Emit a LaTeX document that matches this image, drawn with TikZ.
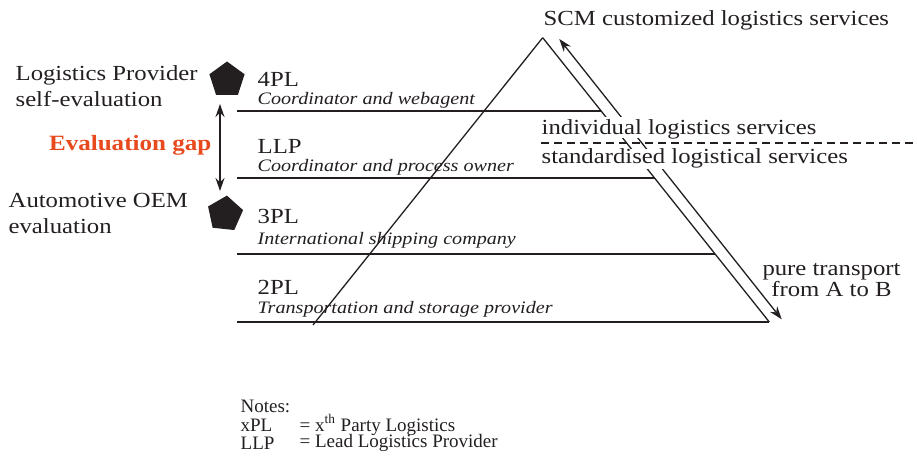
\documentclass[tikz,border=0pt]{standalone}
\usepackage{fontspec}
\setmainfont{Liberation Serif}[FakeStretch=1.15]
\newfontfamily\notefont{Liberation Serif}
\usetikzlibrary{shapes.geometric,arrows.meta,positioning}

\definecolor{ink}{HTML}{231F20}
\definecolor{gaporange}{HTML}{E84A1E}

\tikzset{
    txt/.style={font=\fontsize{10.75}{13}\selectfont, text=ink, inner sep=0pt, anchor=west},
    desc/.style={font=\fontsize{8.75}{10}\selectfont\itshape, text=ink, inner sep=0pt, anchor=base west},
    note/.style={font=\notefont\fontsize{9.5}{9.5}\selectfont, text=ink, inner sep=0pt, anchor=west},
    penta/.style={regular polygon, regular polygon sides=5, fill=ink, minimum size=18.5pt, inner sep=0pt},
    tip/.style={{Stealth[length=6.5pt,width=4.5pt]}-{Stealth[length=6.5pt,width=4.5pt]}},
}

\begin{document}
\begin{tikzpicture}[x=0.5pt, y=-0.5pt, line width=0.65pt, draw=ink]
    \useasboundingbox (0,0) rectangle (917,459);

    % pyramid
    \coordinate (apex) at (542.7,37.7);
    \coordinate (br) at (769.3,322);
    \coordinate (bl) at (313,325);
    \draw[ink] (apex) -- (br);
    \draw[ink] (apex) -- (bl);

    % levels
    \coordinate (l4) at (237,111);  \coordinate (r4) at (601.2,111);
    \coordinate (ll) at (237,178);  \coordinate (rl) at (654.7,178);
    \coordinate (l3) at (237,254);  \coordinate (r3) at (715.3,254);
    \coordinate (l2) at (237,322);  \coordinate (r2) at (769.3,322);
    \draw[ink] (l4) -- (r4);
    \draw[ink] (ll) -- (rl);
    \draw[ink] (l3) -- (r3);
    \draw[ink] (l2) -- (r2);

    \node[txt, anchor=base west] (pl4) at (257,86.7) {4PL};
    \node[desc] (pl4d) at (257,105) {Coordinator and webagent};
    \node[txt, anchor=base west] (llp) at (257,153.3) {LLP};
    \node[desc] (llpd) at (257,171.7) {Coordinator and process owner};
    \node[txt, anchor=base west] (pl3) at (257,223.3) {3PL};
    \node[desc] (pl3d) at (257,245) {International shipping company};
    \node[txt, anchor=base west] (pl2) at (257,295) {2PL};
    \node[desc] (pl2d) at (257,313.3) {Transportation and storage provider};

    % service range
    \coordinate (up) at (559.3,39);
    \coordinate (down) at (781.7,319.3);
    \draw[ink, tip] (up) -- (down);

    \node[txt, anchor=base west] (scm) at (543,26) {SCM customized logistics services};
    \node[txt, anchor=base west, fill=white, text height=9pt, text depth=1.5pt] (indiv) at (541,135) {individual logistics services};
    \node[txt, anchor=base west, fill=white] (stand) at (541,164) {standardised logistical services};
    \coordinate (dl) at (541,143);
    \coordinate (dr) at (917,143);
    \draw[ink, dash pattern=on 4pt off 2.5pt] (dl) -- (dr);
    \node[txt, anchor=base, align=center, font=\fontsize{10.75}{10.85}\selectfont] (pure) at (831.5,297) {pure transport\\from A to B};

    % evaluation
    \node[penta] (self) at (227,80) {};
    \node[penta, rotate=-6] (oem) at (225,214) {};
    \coordinate (gtop) at (220,104);
    \coordinate (gbot) at (220,191);
    \draw[ink, tip] (gtop) -- (gbot);
    \node[txt, align=left] (selfl) at (15,86) {Logistics Provider\\self-evaluation};
    \node[txt, align=left] (oeml) at (8,213) {Automotive OEM\\evaluation};
    \node[txt, anchor=east, text=gaporange, font=\fontsize{10.9}{13}\selectfont\bfseries] (gap) at (212,145) {Evaluation gap};

    % notes
    \node[note] (notes) at (240,406) {Notes:};
    \node[note] (xpl) at (240,425) {xPL};
    \node[note] (xpld) at (299,425) {= x\textsuperscript{th} Party Logistics};
    \node[note] (llpn) at (240,443) {LLP};
    \node[note] (llpnd) at (299,443) {= Lead Logistics Provider};
\end{tikzpicture}
\end{document}
